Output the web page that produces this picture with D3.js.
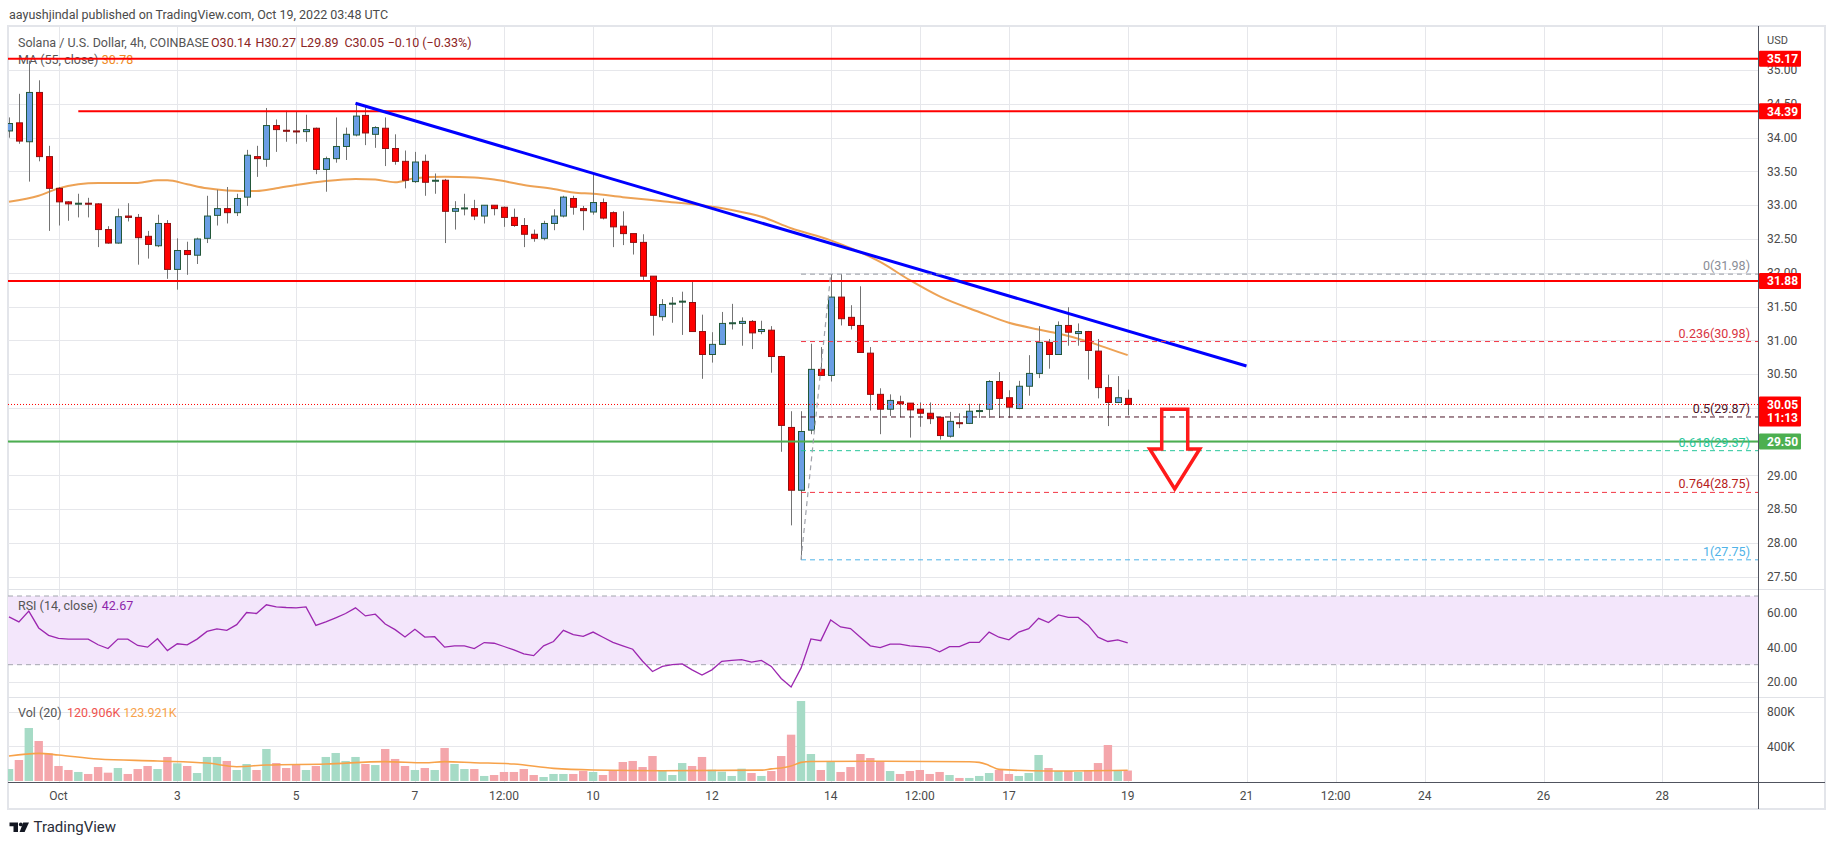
<!DOCTYPE html>
<html>
<head>
<meta charset="utf-8">
<script src="https://cdn.jsdelivr.net/npm/d3@7"></script>
<style>
  html, body { margin: 0; padding: 0; background: #fff; }
  svg { display: block; font-family: Roboto, "Liberation Sans", Arial, sans-serif; }
</style>
</head>
<body>
<div id="chart"></div>
<script>
// SOL/USD 4h candles, first bar = Sep 30 04:00 UTC (bar index -5 from Oct 1 00:00)
const firstBar = -5;
const opens = [34.10, 34.22, 33.94, 34.67, 33.72,
  33.25, 33.05, 33.02, 33.03, 33.02, 32.64, 32.44, 32.84, 32.82, 32.54,
  32.40, 32.73, 32.05, 32.33, 32.26, 32.51, 32.85, 32.95, 32.89, 33.12,
  33.72, 33.68, 34.18, 34.11, 34.10, 34.09, 34.14, 33.53, 33.69, 33.87,
  34.04, 34.33, 34.05, 34.14, 33.84, 33.65, 33.35, 33.65, 33.36, 33.37,
  32.91, 32.95, 32.95, 32.84, 33.00, 32.97, 32.82, 32.70, 32.57, 32.51,
  32.73, 32.84, 33.10, 32.95, 32.90, 33.04, 32.89, 32.69, 32.58, 32.45,
  31.95, 31.35, 31.54, 31.57, 31.56, 31.13, 30.79, 30.94, 31.25, 31.25,
  31.28, 31.13, 31.15, 30.76, 29.71, 28.78, 29.67, 30.57, 30.48, 31.64,
  31.34, 31.22, 30.81, 30.20, 29.98, 30.09, 30.07, 29.98, 29.92, 29.86,
  29.58, 29.78, 29.77, 29.95, 29.98, 30.39, 30.15, 29.99, 30.32, 30.51,
  30.97, 30.79, 31.22, 31.10, 31.13, 30.84, 30.30, 30.08, 30.14];
const highs = [34.30, 34.65, 35.14, 34.85, 33.88,
  33.27, 33.06, 33.17, 33.11, 33.03, 32.69, 32.95, 33.03, 32.87, 32.62,
  32.86, 32.78, 32.51, 32.46, 32.52, 33.14, 33.23, 33.27, 33.17, 33.82,
  33.88, 34.44, 34.27, 34.40, 34.39, 34.34, 34.15, 33.72, 34.30, 34.15,
  34.51, 34.48, 34.17, 34.30, 34.05, 33.81, 33.79, 33.75, 33.47, 33.39,
  33.06, 33.17, 33.08, 33.00, 33.00, 32.98, 32.95, 32.81, 32.64, 32.77,
  32.94, 33.14, 33.14, 32.99, 33.47, 33.10, 32.91, 32.91, 32.58, 32.57,
  31.95, 31.61, 31.64, 31.72, 31.87, 31.38, 31.12, 31.42, 31.54, 31.34,
  31.30, 31.29, 31.21, 30.77, 29.95, 29.95, 30.95, 30.90, 31.98, 31.98,
  31.52, 31.80, 30.90, 30.29, 30.20, 30.18, 30.07, 30.08, 30.08, 29.86,
  29.94, 29.92, 30.06, 30.06, 30.41, 30.53, 30.26, 30.40, 30.78, 31.21,
  31.02, 31.28, 31.49, 31.25, 31.14, 31.02, 30.49, 30.47, 30.27];
const lows = [34.00, 33.91, 33.35, 33.65, 32.62,
  32.70, 32.77, 32.82, 32.82, 32.38, 32.43, 32.43, 32.76, 32.12, 32.21,
  32.38, 31.91, 31.75, 31.97, 32.13, 32.44, 32.70, 32.73, 32.84, 32.99,
  33.42, 33.57, 33.79, 33.94, 33.91, 33.94, 33.46, 33.20, 33.63, 33.67,
  34.02, 33.89, 33.85, 33.58, 33.60, 33.25, 33.33, 33.14, 33.17, 32.44,
  32.64, 32.85, 32.78, 32.73, 32.85, 32.68, 32.68, 32.38, 32.46, 32.48,
  32.63, 32.82, 32.86, 32.63, 32.86, 32.79, 32.38, 32.41, 32.27, 31.88,
  31.07, 31.29, 31.26, 31.08, 31.13, 30.43, 30.67, 30.93, 31.16, 30.92,
  30.87, 31.09, 30.52, 29.35, 28.26, 27.75, 29.61, 30.48, 30.39, 31.22,
  31.16, 30.82, 29.96, 29.61, 29.88, 29.86, 29.56, 29.72, 29.76, 29.53,
  29.56, 29.70, 29.76, 29.85, 29.85, 29.85, 29.85, 29.98, 30.18, 30.44,
  30.58, 30.79, 30.92, 30.92, 30.42, 30.14, 29.73, 30.07, 29.89];
const closes = [34.21, 33.95, 34.67, 33.72, 33.25,
  33.05, 33.02, 33.03, 33.02, 32.64, 32.44, 32.83, 32.82, 32.52, 32.42,
  32.73, 32.05, 32.33, 32.27, 32.50, 32.84, 32.95, 32.89, 33.10, 33.74,
  33.69, 34.18, 34.12, 34.10, 34.09, 34.12, 33.53, 33.69, 33.87, 34.05,
  34.32, 34.07, 34.15, 33.84, 33.65, 33.37, 33.64, 33.34, 33.37, 32.91,
  32.95, 32.96, 32.84, 33.00, 32.95, 32.82, 32.70, 32.57, 32.51, 32.73,
  32.84, 33.12, 32.97, 32.92, 33.04, 32.81, 32.68, 32.58, 32.45, 31.95,
  31.37, 31.53, 31.55, 31.58, 31.13, 30.79, 30.94, 31.25, 31.26, 31.28,
  31.11, 31.16, 30.76, 29.74, 28.78, 29.65, 30.57, 30.48, 31.64, 31.32,
  31.22, 30.82, 30.20, 29.98, 30.11, 30.06, 29.97, 29.92, 29.84, 29.59,
  29.80, 29.77, 29.95, 29.96, 30.39, 30.14, 30.01, 30.32, 30.51, 30.97,
  30.79, 31.22, 31.12, 31.13, 30.85, 30.30, 30.08, 30.15, 30.05];
// volume in thousands
const volumes = [138, 242, 611, 461, 319,
  173, 127, 104, 81, 161, 96, 150, 81, 138, 173,
  138, 277, 204, 173, 92, 277, 277, 231, 127, 196,
  127, 369, 207, 150, 184, 127, 173, 277, 323, 231,
  277, 196, 184, 369, 254, 173, 127, 150, 127, 380,
  196, 138, 138, 58, 69, 104, 104, 138, 69, 46,
  81, 81, 81, 115, 104, 69, 119, 219, 231, 161,
  288, 119, 69, 207, 173, 277, 130, 108, 58, 142,
  92, 58, 115, 288, 534, 922, 311, 127, 231, 104,
  161, 311, 265, 219, 115, 81, 115, 127, 81, 104,
  69, 35, 35, 58, 92, 127, 81, 58, 92, 300,
  150, 115, 115, 104, 127, 207, 415, 127, 121];
const rsiValues = [57.8, 54.9, 61.2, 51.4, 47.1,
  45.3, 44.9, 44.9, 44.9, 41.6, 39.4, 44.9, 44.9, 41.2, 40.2,
  45.1, 38.2, 42.2, 41.6, 44.9, 49.4, 50.8, 50.0, 53.3, 60.4,
  59.8, 64.9, 63.7, 63.3, 63.1, 63.7, 52.9, 54.9, 57.3, 59.8,
  63.1, 58.4, 59.4, 53.7, 50.4, 46.1, 50.6, 46.1, 46.3, 40.2,
  41.0, 41.0, 39.4, 42.9, 42.5, 40.6, 38.6, 36.3, 35.3, 41.0,
  43.5, 50.0, 47.5, 46.5, 49.0, 46.0, 43.0, 41.0, 39.0, 32.0,
  26.0, 29.0, 30.0, 30.5, 27.0, 24.0, 27.0, 32.0, 32.5, 33.0,
  31.5, 32.5, 29.0, 22.0, 17.0, 28.0, 45.0, 44.0, 56.0, 52.0,
  51.0, 46.0, 41.0, 40.0, 42.0, 42.0, 41.0, 40.5, 40.0, 37.5,
  40.5, 40.5, 43.0, 43.0, 49.0, 46.0, 44.5, 49.0, 51.0, 57.0,
  54.5, 59.0, 57.5, 57.5, 53.0, 46.0, 43.5, 44.5, 42.67];

// MA(55) at these bars
const maBars = [-5, -2, 0, 2, 4, 8, 10, 11, 13, 15, 17, 20, 22, 24, 27, 30, 32, 34, 36, 39, 42, 44, 47,
  50, 52, 54, 57, 61, 65, 68, 71, 74, 78, 83, 86, 89, 93, 96, 99, 101, 104, 106, 108];
const maValues = [33.05, 33.14, 33.25, 33.31, 33.33, 33.33, 33.37, 33.37, 33.31, 33.25, 33.22, 33.21, 33.25,
  33.30, 33.36, 33.39, 33.38, 33.34, 33.40, 33.42, 33.41, 33.38, 33.30, 33.24, 33.19, 33.17, 33.12,
  33.06, 33.00, 32.93, 32.83, 32.66, 32.48, 32.16, 31.89, 31.65, 31.42, 31.26, 31.16, 31.10, 30.98,
  30.88, 30.78];
// volume MA(20), thousands
const volMaBars = [-5, -2, 0, 4, 10, 15, 18, 21, 27, 33, 37, 39, 42, 46, 50, 54, 61, 71, 72, 73, 74, 75,
  76, 83, 92, 93, 94, 95, 100, 108];
const volMaValues = [288, 319, 300, 254, 231, 207, 165, 184, 196, 223, 211, 223, 211, 196, 146, 127, 119,
  125, 140, 150, 172, 215, 225, 227, 222, 215, 180, 134, 115, 124];

const priceTicks = [27.5, 28, 28.5, 29, 29.5, 30, 30.5, 31, 31.5, 32, 32.5, 33, 33.5, 34, 34.5, 35];
const rsiTicks = [20, 40, 60];
const volTicks = [400, 800];
const xTickDates = ["2022-10-01T00:00Z", "2022-10-03T00:00Z", "2022-10-05T00:00Z", "2022-10-07T00:00Z",
  "2022-10-08T12:00Z", "2022-10-10T00:00Z", "2022-10-12T00:00Z", "2022-10-14T00:00Z", "2022-10-15T12:00Z",
  "2022-10-17T00:00Z", "2022-10-19T00:00Z", "2022-10-21T00:00Z", "2022-10-22T12:00Z", "2022-10-24T00:00Z",
  "2022-10-26T00:00Z", "2022-10-28T00:00Z"];
const xTickLabels = ["Oct", "3", "5", "7", "12:00", "10", "12", "14", "12:00", "17", "19", "21", "12:00",
  "24", "26", "28"];

// drawings
const redLevels = [{ price: 35.17, fromBar: null }, { price: 34.39, fromBar: 2 }, { price: 31.88, fromBar: null }];
const greenLevel = 29.50;
const trendLine = { bars: [30, 120], prices: [34.51, 30.62] };
const fibLow = { bar: 75, price: 27.75 };
const fibHigh = { bar: 78, price: 31.98 };
const fibRatios = [0, 0.236, 0.5, 0.618, 0.764, 1];
const fibLineColors = ["#9598a1", "#f23645", "#4a1326", "#26c69a", "#f23645", "#4fb3e8"];
const fibTextColors = ["#8a8d96", "#d8333f", "#4a1326", "#26c69a", "#b71c1c", "#4fb3e8"];
const arrow = { bar: 112.75, top: 29.98, tip: 28.80 };
const lastPrice = 30.05;
const countdown = "11:13";

const W = 1834, H = 845;
const plot = { left: 8, right: 1758, outerRight: 1825 };
const panes = {
    price: { top: 27, bottom: 589 },
    rsi: { top: 590, bottom: 697 },
    vol: { top: 697, bottom: 782 },
    axisBottom: 809
};

const origin = Date.UTC(2022, 9, 1);
const barTime = i => new Date(origin + i * 4 * 3600e3);
const bars = closes.map((c, k) => ({
    i: firstBar + k, t: barTime(firstBar + k),
    o: opens[k], h: highs[k], l: lows[k], c: c, v: volumes[k] * 1000, rsi: rsiValues[k]
}));

const x = d3.scaleUtc()
    .domain([new Date("2022-10-01T00:00Z"), new Date("2022-10-29T00:00Z")])
    .range([58.5, 1721.7]);
const y = d3.scaleLinear().domain([27.5, 34]).range([576.7, 137.7]);
const yRsi = d3.scaleLinear().domain([30, 70]).range([664.7, 596]);
const yVol = d3.scaleLinear().domain([0, 800000]).range([781, 711.6]);

const svg = d3.select("#chart").append("svg")
    .attr("width", W)
    .attr("height", H);

const defs = svg.append("defs");
Object.entries({ price: panes.price, rsi: panes.rsi, vol: panes.vol }).forEach(([name, p]) => {
    defs.append("clipPath").attr("id", `clip-${name}`)
        .append("rect")
        .attr("x", plot.left).attr("y", p.top)
        .attr("width", plot.right - plot.left).attr("height", p.bottom - p.top);
});

// header
svg.append("text")
    .attr("x", 9).attr("y", 19)
    .attr("font-size", 12.5).attr("fill", "#4a4a4a")
    .text("aayushjindal published on TradingView.com, Oct 19, 2022 03:48 UTC");

// frame
svg.append("rect")
    .attr("x", plot.left).attr("y", 26)
    .attr("width", plot.outerRight - plot.left).attr("height", panes.axisBottom - 26)
    .attr("fill", "none").attr("stroke", "#e3e5ea").attr("stroke-width", 2);

const grid = svg.append("g").attr("stroke", "#e6e7eb").attr("stroke-width", 1);

// vertical grid across the three panes
xTickDates.forEach(d => {
    const xx = Math.round(x(new Date(d))) + 0.5;
    grid.append("line").attr("x1", xx).attr("x2", xx)
        .attr("y1", panes.price.top).attr("y2", panes.vol.bottom);
});
priceTicks.forEach(p => {
    const yy = Math.round(y(p)) + 0.5;
    grid.append("line").attr("x1", plot.left).attr("x2", plot.right).attr("y1", yy).attr("y2", yy);
});

// RSI band
svg.append("rect")
    .attr("x", plot.left).attr("y", yRsi(70))
    .attr("width", plot.right - plot.left).attr("height", yRsi(30) - yRsi(70))
    .attr("fill", "#f3e6fb");
rsiTicks.forEach(v => {
    const yy = Math.round(yRsi(v)) + 0.5;
    grid.append("line").attr("x1", plot.left).attr("x2", plot.right).attr("y1", yy).attr("y2", yy)
        .attr("stroke", v === 20 ? "#e6e7eb" : "#e2d3ef");
});
[70, 30].forEach(v => {
    svg.append("line")
        .attr("x1", plot.left).attr("x2", plot.right)
        .attr("y1", yRsi(v)).attr("y2", yRsi(v))
        .attr("stroke", "#a3a6ae").attr("stroke-dasharray", "5 4");
});
volTicks.forEach(v => {
    const yy = Math.round(yVol(v * 1000)) + 0.5;
    grid.append("line").attr("x1", plot.left).attr("x2", plot.right).attr("y1", yy).attr("y2", yy);
});

// pane separators
[panes.price.bottom + 0.5, panes.rsi.bottom + 0.5].forEach(yy => {
    svg.append("line").attr("x1", plot.left).attr("x2", plot.outerRight)
        .attr("y1", yy).attr("y2", yy).attr("stroke", "#e0e2e7");
});

// legends
const legend = svg.append("g").attr("font-size", 12.5);
const priceLegend = legend.append("text").attr("y", 47);
priceLegend.append("tspan").attr("x", 18).attr("fill", "#555").text("Solana / U.S. Dollar, 4h, COINBASE");
const last = bars[bars.length - 1];
[["O", last.o, 211], ["H", last.h, 255.6], ["L", last.l, 300.4], ["C", last.c, 344.4]].forEach(([k, v, xx]) => {
    priceLegend.append("tspan").attr("x", xx).attr("fill", "#8b2424").text(`${k}${v.toFixed(2)}`);
});
priceLegend.append("tspan").attr("x", 387.7).attr("fill", "#8b2424").text("\u22120.10 (\u22120.33%)");

const maLegend = legend.append("text").attr("y", 64);
maLegend.append("tspan").attr("x", 18).attr("fill", "#555").text("MA (55, close)");
maLegend.append("tspan").attr("x", 101.8).attr("fill", "#f08a24").text(maValues[maValues.length - 1].toFixed(2));

const rsiLegend = legend.append("text").attr("y", 609.5);
rsiLegend.append("tspan").attr("x", 18).attr("fill", "#555").text("RSI (14, close)");
rsiLegend.append("tspan").attr("x", 101.8).attr("fill", "#8e24aa").text(rsiValues[rsiValues.length - 1].toFixed(2));

const volLegend = legend.append("text").attr("y", 716.5);
volLegend.append("tspan").attr("x", 18).attr("fill", "#555").text("Vol (20)");
volLegend.append("tspan").attr("x", 67).attr("fill", "#ef5350").text("120.906K");
volLegend.append("tspan").attr("x", 123.2).attr("fill", "#f7a24a").text("123.921K");

// price pane
const pricePane = svg.append("g").attr("clip-path", "url(#clip-price)");

const maLine = d3.line().x((d, k) => x(barTime(maBars[k]))).y(d => y(d)).curve(d3.curveMonotoneX);
pricePane.append("path")
    .datum(maValues)
    .attr("fill", "none").attr("stroke", "#eb9843").attr("stroke-width", 2).attr("stroke-opacity", 0.9)
    .attr("d", maLine);

const candles = pricePane.append("g").selectAll("g").data(bars).join("g");
candles.append("line")
    .attr("x1", d => Math.round(x(d.t)) + 0.5).attr("x2", d => Math.round(x(d.t)) + 0.5)
    .attr("y1", d => y(d.h)).attr("y2", d => y(d.l))
    .attr("stroke", "#737373").attr("stroke-width", 1);
candles.append("rect")
    .attr("x", d => Math.round(x(d.t)) - 2.5)
    .attr("width", 6)
    .attr("y", d => y(Math.max(d.o, d.c)))
    .attr("height", d => Math.max(1, Math.abs(y(d.o) - y(d.c))))
    .attr("fill", d => d.c >= d.o ? "#6a9ee4" : "#ff0000")
    .attr("stroke", d => d.c >= d.o ? "#23583a" : "#8e1010")
    .attr("stroke-width", 1);

// horizontal levels
redLevels.forEach(lv => {
    pricePane.append("line")
        .attr("x1", lv.fromBar === null ? plot.left : x(barTime(lv.fromBar))).attr("x2", plot.right)
        .attr("y1", y(lv.price)).attr("y2", y(lv.price))
        .attr("stroke", "#ff0000").attr("stroke-width", 2);
});
pricePane.append("line")
    .attr("x1", plot.left).attr("x2", plot.right)
    .attr("y1", y(greenLevel)).attr("y2", y(greenLevel))
    .attr("stroke", "#4caf50").attr("stroke-width", 2);

// trend line
pricePane.append("line")
    .attr("x1", x(barTime(trendLine.bars[0]))).attr("y1", y(trendLine.prices[0]))
    .attr("x2", x(barTime(trendLine.bars[1]))).attr("y2", y(trendLine.prices[1]))
    .attr("stroke", "#0000ff").attr("stroke-width", 3);

// fib retracement
const fibRange = fibHigh.price - fibLow.price;
fibRatios.forEach((r, k) => {
    const lvl = fibHigh.price - r * fibRange;
    pricePane.append("line")
        .attr("x1", x(barTime(fibLow.bar))).attr("x2", plot.right)
        .attr("y1", y(lvl)).attr("y2", y(lvl))
        .attr("stroke", fibLineColors[k]).attr("stroke-width", 1).attr("stroke-dasharray", "5 4");
    pricePane.append("text")
        .attr("x", 1750).attr("y", y(lvl) - 4)
        .attr("text-anchor", "end").attr("font-size", 12.5)
        .attr("fill", fibTextColors[k])
        .text(`${r}(${lvl.toFixed(2)})`);
});
pricePane.append("line")
    .attr("x1", x(barTime(fibLow.bar))).attr("y1", y(fibLow.price))
    .attr("x2", x(barTime(fibHigh.bar))).attr("y2", y(fibHigh.price))
    .attr("stroke", "#a0a3ab").attr("stroke-width", 1.2).attr("stroke-dasharray", "5 4");

// last price dotted line
pricePane.append("line")
    .attr("x1", plot.left).attr("x2", plot.right)
    .attr("y1", y(lastPrice)).attr("y2", y(lastPrice))
    .attr("stroke", "#ff0000").attr("stroke-width", 1).attr("stroke-dasharray", "1 2");

// hollow down arrow
const ax = x(barTime(arrow.bar)), aTop = y(arrow.top), aTip = y(arrow.tip);
const headY = aTop + (aTip - aTop) / 2;
pricePane.append("path")
    .attr("d", `M${ax - 13},${aTop} L${ax + 13},${aTop} L${ax + 13},${headY} L${ax + 25},${headY}
        L${ax},${aTip} L${ax - 25},${headY} L${ax - 13},${headY} Z`)
    .attr("fill", "none").attr("stroke", "#ff1a1a").attr("stroke-width", 3.5).attr("stroke-linejoin", "miter");

// RSI pane
svg.append("g").attr("clip-path", "url(#clip-rsi)")
    .append("path")
    .datum(bars)
    .attr("fill", "none").attr("stroke", "#9c27b0").attr("stroke-width", 1.3)
    .attr("d", d3.line().x(d => x(d.t)).y(d => yRsi(d.rsi)));

// volume pane
const volPane = svg.append("g").attr("clip-path", "url(#clip-vol)");
volPane.selectAll("rect").data(bars).join("rect")
    .attr("x", d => x(d.t) - 4.2)
    .attr("width", 8.4)
    .attr("y", d => yVol(d.v))
    .attr("height", d => yVol(0) - yVol(d.v))
    .attr("fill", d => d.c >= d.o ? "#a6dbc6" : "#f4a6ab");
volPane.append("path")
    .datum(volMaValues)
    .attr("fill", "none").attr("stroke", "#f7a24a").attr("stroke-width", 1.6)
    .attr("d", d3.line().x((d, k) => x(barTime(volMaBars[k]))).y(d => yVol(d * 1000)).curve(d3.curveMonotoneX));

// axes lines
svg.append("line").attr("x1", plot.left).attr("x2", plot.outerRight)
    .attr("y1", panes.vol.bottom + 0.5).attr("y2", panes.vol.bottom + 0.5)
    .attr("stroke", "#50535e");
svg.append("line").attr("x1", plot.right + 0.5).attr("x2", plot.right + 0.5)
    .attr("y1", 26).attr("y2", panes.axisBottom)
    .attr("stroke", "#50535e");

// time axis
const timeAxis = svg.append("g").attr("font-size", 12).attr("fill", "#4a4a4a").attr("text-anchor", "middle");
xTickDates.forEach((d, k) => {
    timeAxis.append("text").attr("x", x(new Date(d))).attr("y", 800).text(xTickLabels[k]);
});

// tags on the price axis: [price, colour, text lines]
const axisTags = [
    ...redLevels.map(lv => [lv.price, "#ff0000", [lv.price.toFixed(2)]]),
    [lastPrice, "#ff0000", [lastPrice.toFixed(2), countdown]],
    [greenLevel, "#4caf50", [greenLevel.toFixed(2)]]
];
const tagBox = ([p, , lines]) => ({ top: y(p) - 8, bottom: y(p) - 8 + (lines.length === 1 ? 16 : 30) });

// price axis, skipping tick labels a tag hides completely
const priceAxis = svg.append("g").attr("font-size", 12).attr("fill", "#4a4a4a");
priceAxis.append("text").attr("x", 1767).attr("y", 44).attr("font-size", 11).text("USD");
priceTicks.forEach(p => {
    const yy = y(p);
    const hidden = axisTags.some(tag => {
        const b = tagBox(tag);
        return yy > b.top + 2 && yy < b.bottom - 2;
    });
    if (hidden) return;
    priceAxis.append("text").attr("x", 1767).attr("y", yy).attr("dy", "0.35em").text(p.toFixed(2));
});
rsiTicks.forEach(v => {
    priceAxis.append("text").attr("x", 1767).attr("y", yRsi(v)).attr("dy", "0.35em").text(v.toFixed(2));
});
volTicks.forEach(v => {
    priceAxis.append("text").attr("x", 1767).attr("y", yVol(v * 1000)).attr("dy", "0.35em").text(`${v}K`);
});

axisTags.forEach(tag => {
    const [, color, lines] = tag;
    const b = tagBox(tag);
    const g = svg.append("g");
    g.append("rect").attr("x", plot.right + 1).attr("y", b.top).attr("width", 42).attr("height", b.bottom - b.top)
        .attr("fill", color).attr("rx", 1);
    lines.forEach((t, k) => {
        g.append("text").attr("x", 1767).attr("y", b.top + 8 + k * 13.5).attr("dy", "0.35em")
            .attr("font-size", 12).attr("font-weight", "bold").attr("fill", "#fff").text(t);
    });
});

// footer logo
const logo = svg.append("g").attr("fill", "#131722");
logo.append("path").attr("d", "M9.5,822.5 H18 V832 H13.5 V826.2 H9.5 Z");
logo.append("circle").attr("cx", 20.8).attr("cy", 824.4).attr("r", 1.9);
logo.append("path").attr("d", "M23.2,822.5 H29 L24.6,832 H19.6 Z");
svg.append("text").attr("x", 33.5).attr("y", 831.5).attr("font-size", 15).attr("fill", "#2a2e39")
    .text("TradingView");
</script>
</body>
</html>
